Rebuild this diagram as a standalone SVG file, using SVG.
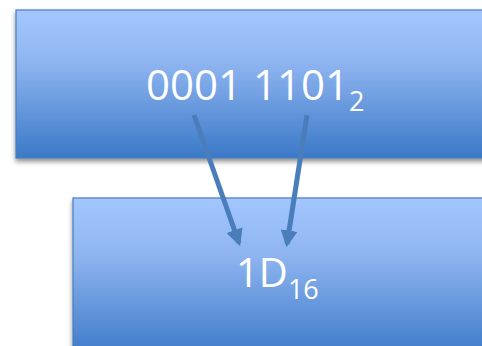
<svg xmlns="http://www.w3.org/2000/svg" width="482" height="346" viewBox="0 0 482 346">
<style>
.box{stroke:#4a7ebb;stroke-width:1.2}
.lbl{font-family:"Open Sans","Liberation Sans",sans-serif;fill:#ffffff}
.conn{stroke:#4a7ebb;stroke-width:5;fill:none}
</style>
<defs>
<linearGradient id="g" x1="0" y1="0" x2="0" y2="1">
<stop offset="0" stop-color="#a3c6ff"/>
<stop offset="0.35" stop-color="#8fb5f0"/>
<stop offset="1" stop-color="#3b79c8"/>
</linearGradient>
<filter id="sh" x="-10%" y="-10%" width="120%" height="130%">
<feGaussianBlur in="SourceAlpha" stdDeviation="2.5"/>
<feOffset dx="0" dy="3" result="b"/>
<feComponentTransfer><feFuncA type="linear" slope="0.45"/></feComponentTransfer>
<feMerge><feMergeNode/><feMergeNode in="SourceGraphic"/></feMerge>
</filter>
<marker id="ah" viewBox="0 0 10 10" refX="8" refY="5" markerWidth="3.4" markerHeight="3.4" orient="auto" markerUnits="strokeWidth">
<path d="M0,0 L10,5 L0,10 Z" fill="#4a7ebb"/>
</marker>
</defs>
<g id="bottom">
<rect class="box" x="73" y="198" width="430" height="160" fill="url(#g)" filter="url(#sh)"/>
<text class="lbl" x="236" y="287" font-size="40">1D<tspan font-size="27" dy="12">16</tspan></text>
</g>
<g id="top">
<rect class="box" x="16" y="10" width="490" height="148" fill="url(#g)" filter="url(#sh)"/>
<text class="lbl" x="146" y="100" font-size="42">0001 1101<tspan font-size="27" dy="11">2</tspan></text>
</g>
<g id="connectors">
<line class="conn" x1="194" y1="115" x2="239" y2="243" marker-end="url(#ah)"/>
<line class="conn" x1="307" y1="115" x2="287" y2="244" marker-end="url(#ah)"/>
</g>
</svg>
